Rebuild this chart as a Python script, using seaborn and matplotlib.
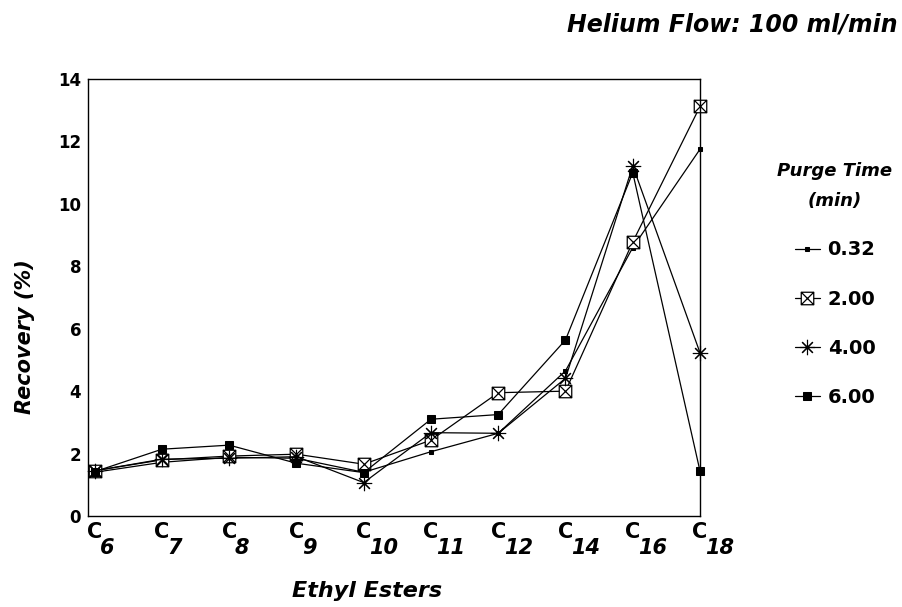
import numpy as np
import pandas as pd
import matplotlib
matplotlib.use("Agg")
import matplotlib.pyplot as plt
from matplotlib.path import Path
import seaborn as sns

# ---- data ----
carbons = ['6', '7', '8', '9', '10', '11', '12', '14', '16', '18']
purge_times = ['0.32', '2.00', '4.00', '6.00']
rec_032 = [1.40, 1.72, 1.88, 1.85, 1.40, 2.06, 2.65, 4.65, 8.60, 11.75]
rec_200 = [1.45, 1.80, 1.92, 1.98, 1.66, 2.43, 3.95, 4.00, 8.78, 13.12]
rec_400 = [1.45, 1.82, 1.85, 1.90, 1.07, 2.67, 2.65, 4.41, 11.22, 5.23]
rec_600 = [1.42, 2.14, 2.27, 1.69, 1.39, 3.10, 3.25, 5.64, 11.00, 1.44]

series = dict(zip(purge_times, [rec_032, rec_200, rec_400, rec_600]))
df = pd.concat([
    pd.DataFrame({'idx': np.arange(len(carbons)), 'rec': vals, 'purge': p})
    for p, vals in series.items()
], ignore_index=True)

# square with an X inside
box_x = Path(
    [(-1, -1), (1, -1), (1, 1), (-1, 1), (-1, -1),
     (-1, -1), (1, 1), (-1, 1), (1, -1)],
    [Path.MOVETO, Path.LINETO, Path.LINETO, Path.LINETO, Path.CLOSEPOLY,
     Path.MOVETO, Path.LINETO, Path.MOVETO, Path.LINETO])

styles = {
    '0.32': dict(marker='s', markersize=3.0, markerfacecolor='black'),
    '2.00': dict(marker=box_x, markersize=9, markerfacecolor='white', markeredgewidth=0.9),
    '4.00': dict(marker=(8, 2, 0), markersize=11, markeredgewidth=0.8),
    '6.00': dict(marker='s', markersize=5.5, markerfacecolor='black'),
}

sns.set_style("white")
plt.rcParams['font.family'] = ['DejaVu Sans']
for k in ['text.color', 'axes.labelcolor', 'xtick.color', 'ytick.color']:
    plt.rcParams[k] = 'black'

fig, ax = plt.subplots(figsize=(9.03, 6.07), dpi=100)
fig.subplots_adjust(left=88/903, right=700/903, top=1-79/607, bottom=1-516/607)

for p in purge_times:
    sub = df[df['purge'] == p]
    sns.lineplot(data=sub, x='idx', y='rec', ax=ax, color='black', linewidth=0.9,
                 markeredgecolor='black', label=p, clip_on=False, **styles[p])

ax.set_xlim(-0.1, 9.0)
ax.set_ylim(0, 14)
ax.set_yticks(range(0, 15, 2))
ax.set_yticklabels([str(v) for v in range(0, 15, 2)], fontsize=12, fontweight='bold')
ax.set_xticks(range(len(carbons)))
ax.set_xticklabels(['C'] * len(carbons), fontsize=15, fontweight='bold')
ax.tick_params(axis='both', length=0)
ax.tick_params(axis='y', pad=5)
ax.tick_params(axis='x', pad=4)
ax.set_xlabel('')
ax.set_ylabel('')
for s in ax.spines.values():
    s.set_color('black')
    s.set_linewidth(1.0)

# subscripts of the carbon numbers
for i, c in enumerate(carbons):
    ax.annotate(c, xy=(i, 0), xycoords=('data', 'axes fraction'),
                xytext=(4, -16), textcoords='offset points', ha='left', va='top',
                fontsize=15, fontweight='bold', fontstyle='italic')

fig.text(367/903, 1-591/607, 'Ethyl Esters', ha='center', va='center',
         fontsize=16, fontweight='bold', fontstyle='italic')
fig.text(25/903, 1-337/607, 'Recovery (%)', ha='center', va='center', rotation=90,
         fontsize=15, fontweight='bold', fontstyle='italic')
fig.text(898/903, 1-25/607, 'Helium Flow: 100 ml/min', ha='right', va='center',
         fontsize=17, fontweight='bold', fontstyle='italic')

leg = ax.legend(title='Purge Time\n(min)', loc='upper center',
                bbox_to_anchor=(835/903, 1-152/607), bbox_transform=fig.transFigure,
                frameon=False, borderpad=0, handlelength=1.3, handletextpad=0.4,
                labelspacing=1.55, prop={'size': 14, 'weight': 'bold'})
leg.get_title().set_fontsize(13)
leg.get_title().set_fontweight('bold')
leg.get_title().set_fontstyle('italic')
leg.get_title().set_linespacing(1.9)
leg.get_title().set_multialignment('center')

fig.savefig('out.png', dpi=100)
